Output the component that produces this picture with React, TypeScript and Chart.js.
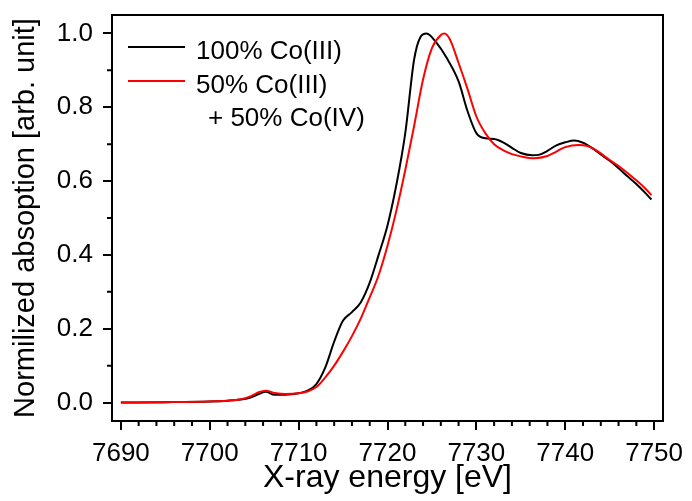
import React, { useEffect, useRef } from "react";
import { Chart, registerables } from "chart.js";

Chart.register(...registerables);

const FONT = "'Liberation Sans', Arial, Helvetica, sans-serif";

// 100% Co(III) — black
const energyBlack = [
  7690, 7695, 7700, 7702, 7703.5, 7704.5, 7705.5, 7706.3, 7707.3, 7708.5, 7710, 7711, 7712, 7713, 7714,
  7715, 7716, 7717, 7718, 7719, 7720, 7721, 7722, 7723, 7723.7, 7724.4, 7725.5, 7726.6, 7728, 7729,
  7730, 7731, 7732, 7733, 7734, 7735, 7736.3, 7737, 7738, 7739, 7740, 7741, 7742, 7743, 7744,
  7745, 7746, 7747, 7748, 7749, 7749.7,
];
const absBlack = [
  0.0, 0.001, 0.003, 0.005, 0.008, 0.013, 0.023, 0.029, 0.021, 0.021, 0.025, 0.032, 0.05, 0.095, 0.165,
  0.222, 0.245, 0.272, 0.325, 0.4, 0.48, 0.59, 0.73, 0.93, 0.99, 1.0, 0.975, 0.936, 0.87, 0.79,
  0.73, 0.716, 0.714, 0.705, 0.69, 0.676, 0.67, 0.671, 0.682, 0.697, 0.705, 0.71, 0.704, 0.69, 0.672,
  0.655, 0.635, 0.613, 0.592, 0.568, 0.55,
];

// 50% Co(III) + 50% Co(IV) — red
const energyRed = [
  7690, 7695, 7700, 7702, 7703.5, 7704.5, 7705.5, 7706.3, 7707.3, 7708.5, 7710, 7711, 7712, 7713, 7714,
  7715, 7716, 7717, 7718, 7719, 7720, 7721, 7722, 7723, 7724, 7725, 7726, 7726.4, 7727, 7728,
  7729, 7730, 7731, 7732, 7733, 7734, 7735, 7736.5, 7738, 7739, 7740, 7741.5, 7742.5, 7743.5, 7745,
  7746, 7747, 7748, 7749, 7749.7,
];
const absRed = [
  0.0, 0.001, 0.003, 0.005, 0.009, 0.016, 0.028, 0.032, 0.026, 0.023, 0.025, 0.03, 0.042, 0.068, 0.1,
  0.138, 0.18, 0.228, 0.285, 0.345, 0.425, 0.52, 0.63, 0.75, 0.875, 0.96, 0.996, 1.0, 0.985, 0.92,
  0.85, 0.775, 0.73, 0.7, 0.684, 0.673, 0.667, 0.662, 0.668, 0.68, 0.692, 0.698, 0.695, 0.683, 0.657,
  0.641, 0.622, 0.602, 0.58, 0.562,
];

const xTicks = [7690, 7700, 7710, 7720, 7730, 7740, 7750];
const xMinor = [
  7692, 7694, 7696, 7698, 7702, 7704, 7706, 7708, 7712, 7714, 7716, 7718, 7722, 7724, 7726, 7728,
  7732, 7734, 7736, 7738, 7742, 7744, 7746, 7748,
];
const yTicks = [0, 0.2, 0.4, 0.6, 0.8, 1.0];
const yMinor = [0.1, 0.3, 0.5, 0.7, 0.9];

const legendLabels = ["100% Co(III)", "50% Co(III)", "+ 50% Co(IV)"];
const seriesColors = ["#000000", "#ff0000"];

const framePlugin = {
  id: "frameAndLegend",
  afterDraw(chart: any) {
    const { ctx, scales } = chart;
    const x = scales.x;
    const y = scales.y;
    const left = x.getPixelForValue(x.min);
    const right = x.getPixelForValue(x.max);
    const top = y.getPixelForValue(y.max);
    const bottom = y.getPixelForValue(y.min);
    ctx.save();
    ctx.strokeStyle = "#000";
    ctx.lineWidth = 2;
    ctx.strokeRect(left, top, right - left, bottom - top);
    ctx.beginPath();
    xMinor.forEach((v) => {
      const px = x.getPixelForValue(v);
      ctx.moveTo(px, bottom);
      ctx.lineTo(px, bottom + 5);
    });
    yMinor.forEach((v) => {
      const py = y.getPixelForValue(v);
      ctx.moveTo(left, py);
      ctx.lineTo(left - 5, py);
    });
    ctx.stroke();

    // legend
    ctx.lineWidth = 2;
    ctx.strokeStyle = seriesColors[0];
    ctx.beginPath();
    ctx.moveTo(left + 16, top + 32);
    ctx.lineTo(left + 73, top + 32);
    ctx.stroke();
    ctx.strokeStyle = seriesColors[1];
    ctx.beginPath();
    ctx.moveTo(left + 16, top + 66);
    ctx.lineTo(left + 73, top + 66);
    ctx.stroke();

    ctx.fillStyle = "#000";
    ctx.font = `26px ${FONT}`;
    ctx.textAlign = "left";
    ctx.textBaseline = "alphabetic";
    ctx.fillText(legendLabels[0], left + 84, top + 44);
    ctx.fillText(legendLabels[1], left + 84, top + 78);
    ctx.fillText(legendLabels[2], left + 96, top + 111);
    ctx.restore();
  },
};

export default function App() {
  const canvasRef = useRef<HTMLCanvasElement | null>(null);

  useEffect(() => {
    document.body.style.margin = "0";
    const canvas = canvasRef.current;
    if (!canvas) return;
    const black = energyBlack.map((e, i) => ({ x: e, y: absBlack[i] }));
    const red = energyRed.map((e, i) => ({ x: e, y: absRed[i] }));

    const chart = new Chart(canvas, {
      type: "line",
      data: {
        datasets: [
          {
            label: legendLabels[0],
            data: black,
            borderColor: seriesColors[0],
            borderWidth: 2,
            pointRadius: 0,
            cubicInterpolationMode: "monotone",
            order: 1,
          },
          {
            label: legendLabels[1] + " " + legendLabels[2],
            data: red,
            borderColor: seriesColors[1],
            borderWidth: 2,
            pointRadius: 0,
            cubicInterpolationMode: "monotone",
            order: 0,
          },
        ],
      },
      options: {
        animation: false,
        responsive: true,
        maintainAspectRatio: false,
        layout: { padding: { top: 15, right: 29, left: 0, bottom: 0 } },
        plugins: { legend: { display: false }, tooltip: { enabled: false } },
        scales: {
          x: {
            type: "linear",
            min: 7689,
            max: 7751,
            afterBuildTicks: (s: any) => {
              s.ticks = xTicks.map((v) => ({ value: v }));
            },
            afterFit: (s: any) => {
              s.height = 80;
              s.paddingLeft = 0;
              s.paddingRight = 0;
            },
            ticks: {
              font: { size: 26, family: FONT },
              color: "#000",
              padding: 8,
              maxRotation: 0,
              autoSkip: false,
              callback: (v: any) => String(v),
            },
            grid: {
              display: true,
              drawOnChartArea: false,
              drawTicks: true,
              tickLength: 9,
              color: "#000",
              lineWidth: 2,
            },
            border: { display: true, color: "#000", width: 2 },
            title: {
              display: true,
              text: "X-ray energy [eV]",
              color: "#000",
              font: { size: 32, family: FONT },
              padding: { top: 0, bottom: 4 },
            },
          },
          y: {
            type: "linear",
            min: -0.05,
            max: 1.05,
            afterBuildTicks: (s: any) => {
              s.ticks = yTicks.map((v) => ({ value: v }));
            },
            afterFit: (s: any) => {
              s.width = 112;
              s.paddingTop = 0;
              s.paddingBottom = 0;
            },
            ticks: {
              font: { size: 26, family: FONT },
              color: "#000",
              padding: 10,
              callback: (v: any) => Number(v).toFixed(1),
            },
            grid: {
              display: true,
              drawOnChartArea: false,
              drawTicks: true,
              tickLength: 9,
              color: "#000",
              lineWidth: 2,
            },
            border: { display: true, color: "#000", width: 2 },
            title: {
              display: true,
              text: "Normilized absoption [arb. unit]",
              color: "#000",
              font: { size: 29, family: FONT },
              padding: { top: 9, bottom: 0 },
            },
          },
        },
      },
      plugins: [framePlugin],
    });
    return () => chart.destroy();
  }, []);

  return (
    <div style={{ width: 692, height: 501, position: "relative", background: "#fff" }}>
      <canvas ref={canvasRef} />
    </div>
  );
}
